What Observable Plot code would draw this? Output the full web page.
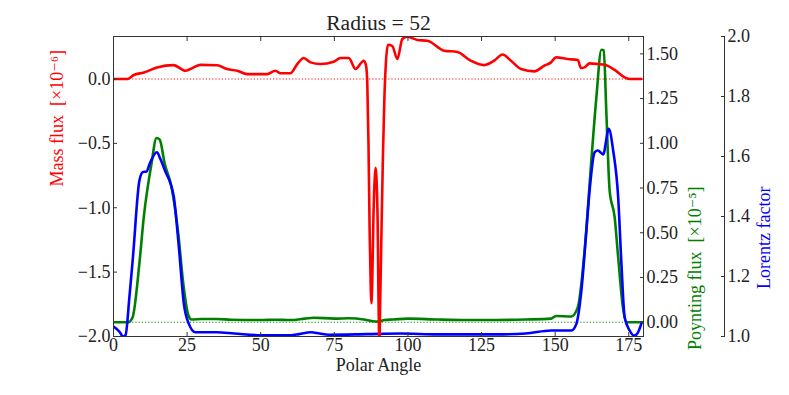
<!DOCTYPE html>
<html><head><meta charset="utf-8">
<script src="https://cdn.jsdelivr.net/npm/d3@7"></script>
<script src="https://cdn.jsdelivr.net/npm/@observablehq/plot@0.6"></script>
<style>body{margin:0;background:#fff}</style>
</head><body><div id="chart"></div>
<script>
// ---- data ----
const title = "Radius = 52";
const xLabel = "Polar Angle";
const massLabel = "Mass flux\u2002[×10⁻⁶]";
const poyntingLabel = "Poynting flux\u2002[×10⁻⁵]";
const lorentzLabel = "Lorentz factor";

const xTicks = [0, 25, 50, 75, 100, 125, 150, 175];
const massTicks = [0, -0.5, -1.0, -1.5, -2.0];
const poyntingTicks = [0, 0.25, 0.5, 0.75, 1.0, 1.25, 1.5];
const lorentzTicks = [1.0, 1.2, 1.4, 1.6, 1.8, 2.0];

const massAngle = [0,4.8,6.9,10.3,14.8,20.4,24.4,26.1,29.5,35.2,38.6,42,45.4,52.2,55,56.7,60.1,62.4,64.6,66.9,70.3,74.8,77.1,79.9,82.2,85,85.8,86.2,86.6,87.0,87.4,87.6,87.9,88.3,88.7,89.0,89.3,89.7,90.0,90.3,90.6,91.0,91.5,92.0,92.5,93.2,94.7,96.4,98.1,99.8,103.2,106.6,112.3,116.8,121.3,125.9,129.3,132.1,135,138.4,142.9,146.3,148.6,150.3,154.3,157.7,158.8,160,161.7,164.5,166.8,170.2,173.6,175.3,179.3];
const massFlux = [0,0,0.031,0.05,0.09,0.108,0.064,0.077,0.11,0.107,0.077,0.064,0.038,0.038,0.064,0.044,0.044,0.116,0.163,0.129,0.116,0.134,0.163,0.163,0.078,0.142,0.10,-0.04,-0.5,-1.2,-1.65,-1.742,-1.55,-1.05,-0.78,-0.69,-0.76,-1.1,-1.7,-2.05,-1.7,-1.2,-0.6,-0.15,0.12,0.266,0.256,0.155,0.31,0.328,0.303,0.297,0.22,0.21,0.142,0.108,0.142,0.19,0.142,0.077,0.059,0.103,0.129,0.168,0.155,0.147,0.085,0.09,0.121,0.116,0.11,0.07,0.013,0,0];

const poyntingAngle = [0,5,6.5,8.8,10.3,12.9,14.6,15.7,17.4,19.7,22,23.7,25.4,26.5,30,35,40,50,55,60,65,68,75,80,85,88,90,92,95,100,110,120,130,140,148.6,150.3,155.5,157.7,160,162.2,164,165.7,166.5,167.4,168.5,170.2,171.4,173,174.2,180];
const poyntingFlux = [0,0,0.028,0.33,0.59,0.885,1.03,1.02,0.885,0.755,0.494,0.215,0.04,0.015,0.018,0.018,0.014,0.012,0.014,0.012,0.02,0.025,0.02,0.022,0.015,0.005,0.003,0.012,0.015,0.02,0.015,0.012,0.012,0.015,0.02,0.035,0.032,0.084,0.40,0.885,1.258,1.523,1.52,1.165,0.736,0.587,0.363,0.084,0,0];

const lorentzAngle = [0,2.1,3.2,4.1,5.4,6.6,8.8,10,11.2,12.3,14.7,16,17.7,19.4,20.5,22.2,23.9,25.6,27.8,35,41,50,59,63,67,70,73,86,97.5,110,130,140,148.6,155.5,157.2,158.9,160.6,161.7,163.4,164.5,166.3,168.2,169.7,171.4,172.5,173.6,175.3,176.8,177.9,179.3];
const lorentzFactor = [1.033,1.015,1.0,1.005,1.131,1.264,1.52,1.548,1.55,1.576,1.614,1.59,1.548,1.509,1.464,1.298,1.109,1.042,1.014,1.014,1.01,1.004,1.004,1.008,1.014,1.01,1.006,1.008,1.01,1.007,1.007,1.01,1.02,1.02,1.042,1.153,1.353,1.487,1.614,1.62,1.607,1.692,1.62,1.464,1.242,1.064,1.02,1.003,1.01,1.044];

// ---- scales (three y axes mapped onto the left one) ----
const massDomain = [-2.0, 0.33];
const poyntingDomain = [-0.08, 1.597];
const lorentzDomain = [1.0, 2.0];
const pToM = d3.scaleLinear().domain(poyntingDomain).range(massDomain);
const lToM = d3.scaleLinear().domain(lorentzDomain).range(massDomain);

const massData = massAngle.map((a, i) => ({a, v: massFlux[i]}));
const poyntingData = poyntingAngle.map((a, i) => ({a, v: pToM(poyntingFlux[i])}));
const lorentzData = lorentzAngle.map((a, i) => ({a, v: lToM(lorentzFactor[i])}));

const ink = "#333";
const serif = "'Liberation Serif', 'DejaVu Serif', serif";
const axisText = {fontFamily: serif, fontSize: 18, fill: "#222", fontVariant: "normal"};
const chart = Plot.plot({
  width: 789, height: 395,
  marginLeft: 113, marginRight: 146, marginTop: 36, marginBottom: 59,
  style: {fontFamily: serif, fontSize: "18px", color: "#222", background: "white"},
  x: {domain: [0, 180]},
  y: {domain: massDomain},
  marks: [
    Plot.ruleY([0], {stroke: "red", strokeWidth: 1, strokeDasharray: "1.2,2"}),
    Plot.ruleY([pToM(0)], {stroke: "green", strokeWidth: 1, strokeDasharray: "1.2,2"}),
    Plot.line(poyntingData, {x: "a", y: "v", stroke: "#008000", strokeWidth: 2.6, curve: "monotone-x", clip: true}),
    Plot.line(lorentzData, {x: "a", y: "v", stroke: "#0000ff", strokeWidth: 2.6, curve: "monotone-x", clip: true}),
    Plot.line(massData, {x: "a", y: "v", stroke: "#ff0000", strokeWidth: 2.6, curve: "monotone-x", clip: true}),
    Plot.frame({stroke: ink}),
    Plot.axisX(xTicks, {tickSize: -4, tickPadding: 6, stroke: ink, label: null, tickFormat: d3.format("d"), ...axisText}),
    Plot.axisX(xTicks, {anchor: "top", tickSize: -4, stroke: ink, fill: "none", label: null}),
    Plot.axisY(massTicks, {tickSize: -4, tickPadding: 7, stroke: ink, label: null, tickFormat: d3.format(".1f"), ...axisText}),
    Plot.axisY(poyntingTicks.map(pToM), {anchor: "right", tickSize: -4, tickPadding: 7, stroke: ink, label: null,
      tickFormat: d => d3.format(".2f")(pToM.invert(d)), ...axisText}),
    Plot.ruleX([180], {dx: 81, stroke: ink}),
    Plot.axisY(lorentzTicks.map(lToM), {anchor: "right", dx: 81, tickSize: -4, tickPadding: 7, stroke: ink, label: null,
      tickFormat: d => d3.format(".1f")(lToM.invert(d)), ...axisText}),
    Plot.text([title], {text: d => d, frameAnchor: "top", lineAnchor: "middle", dy: -13, fontSize: 21.6, fontFamily: serif, fill: "#222"}),
    Plot.text([xLabel], {text: d => d, frameAnchor: "bottom", lineAnchor: "middle", dy: 29, fontSize: 18, fontFamily: serif, fill: "#222"}),
    Plot.text([massLabel], {text: d => d, frameAnchor: "left", lineAnchor: "middle", dx: -56, rotate: -90, fontSize: 18, fontFamily: serif, fill: "#ff0000"}),
    Plot.text([poyntingLabel], {text: d => d, frameAnchor: "right", lineAnchor: "middle", dx: 52, rotate: -90, fontSize: 18, fontFamily: serif, fill: "#008000"}),
    Plot.text([lorentzLabel], {text: d => d, frameAnchor: "right", lineAnchor: "middle", dx: 121, rotate: -90, fontSize: 18, fontFamily: serif, fill: "#0000ff"})
  ]
});
document.getElementById("chart").append(chart);
</script>
</body></html>
